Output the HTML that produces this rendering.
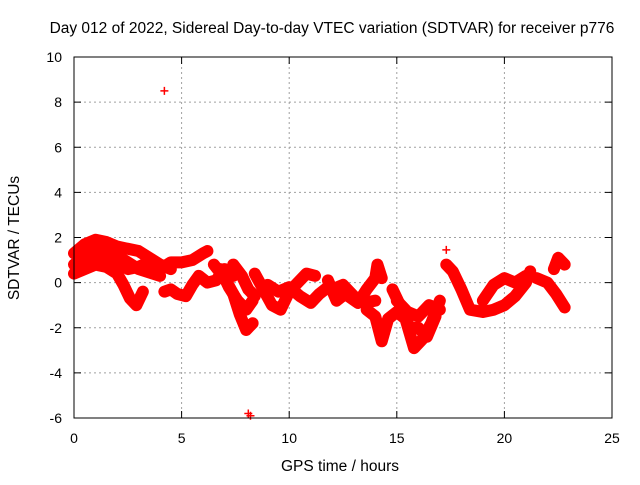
<!DOCTYPE html>
<html><head><meta charset="utf-8"><style>
body{margin:0;background:#fff}
svg text{font-family:"Liberation Sans",sans-serif;font-size:14px;fill:#000}
svg text.t{font-size:15.5px}
</style></head><body>
<svg width="640" height="480" id="c">
<text class="t" x="332" y="33" text-anchor="middle">Day 012 of 2022, Sidereal Day-to-day VTEC variation (SDTVAR) for receiver p776</text>
<text class="t" x="340" y="471" text-anchor="middle">GPS time / hours</text>
<text class="t" transform="translate(19,238) rotate(-90)" text-anchor="middle">SDTVAR / TECUs</text>
<g id="grid"></g><g id="marks"></g>
<rect x="74" y="57" width="538" height="361" fill="none" stroke="#000"/>
</svg>
<script>
const xTicks=[0,5,10,15,20,25];
const yTicks=[-6,-4,-2,0,2,4,6,8,10];
const track1=[[0,1.3],[0.5,1.7],[1,1.9],[1.5,1.8],[2,1.6],[2.5,1.5],[3,1.4],[3.5,1.1],[4,0.8],[4.5,0.6]];
const track2=[[0,0.8],[0.5,1.2],[1,1.3],[1.5,1.1],[2,1.0],[2.5,0.6],[3,0.7],[3.5,0.9],[4,0.6],[4.5,0.9],[5,0.9],[5.5,1.0],[6,1.3],[6.2,1.4]];
const track3=[[0,0.4],[0.5,0.6],[1,0.8],[1.5,0.7],[2,0.4],[2.3,-0.1],[2.6,-0.7],[2.9,-1.0],[3.2,-0.4]];
const track4=[[4.2,-0.4],[4.5,-0.3],[4.8,-0.5],[5.2,-0.6],[5.5,-0.1],[5.8,0.3],[6.2,0.0],[6.6,0.1],[7,0.6],[7.4,0.3]];
const track5=[[6.5,0.8],[7,0.2],[7.4,-0.5],[7.7,-1.4],[8,-2.1],[8.3,-1.8]];
const track6=[[7.4,0.8],[7.8,0.3],[8.1,-0.3],[8.4,-0.6]];
const track7=[[8.4,0.4],[8.8,-0.3],[9.2,-1.0],[9.6,-1.2],[10,-0.4],[10.4,0.0],[10.8,0.4],[11.2,0.3]];
const track8=[[9.0,-0.1],[9.5,-0.4],[10,-0.2],[10.5,-0.6],[11,-0.9],[11.4,-0.5],[11.8,-0.2]];
const track9=[[11.8,0.1],[12.2,-0.8],[12.6,-0.5],[13.2,-0.9],[13.6,-0.3],[14,0.2],[14.1,0.8],[14.3,0.2]];
const track10=[[13.6,-1.2],[14,-1.5],[14.3,-2.6],[14.6,-1.6],[15,-1.3],[15.4,-1.6],[15.8,-2.9],[16.2,-2.5],[16.6,-1.8],[17,-0.8]];
const track11=[[14.8,-0.3],[15.2,-1.1],[15.6,-2.0],[16,-2.0],[16.4,-2.4],[16.8,-1.5]];
const track12=[[17.3,0.8],[17.6,0.5],[18,-0.3],[18.4,-1.2],[19,-1.3],[19.5,-1.2],[20,-1.0],[20.5,-0.6],[21,0.0],[21.2,0.5]];
const track13=[[19,-0.8],[19.5,-0.1],[20,0.2],[20.5,0.0],[21,0.3]];
const track14=[[21.5,0.2],[22,0.0],[22.4,-0.5],[22.8,-1.1]];
const track15=[[22.3,0.6],[22.5,1.1],[22.8,0.8]];
const track16=[[6.8,0.6],[7.2,-0.2],[7.6,-0.8],[8,-1.2],[8.3,-0.8]];
const track17=[[0.3,1.0],[1,1.4],[2,1.2],[3,0.6],[4,0.3]];
const track18=[[12,-0.3],[12.5,-0.1],[13,-0.6],[13.5,-0.9],[14,-0.8]];
const track19=[[15,-0.8],[15.5,-1.3],[16,-1.5],[16.5,-1.0],[17,-1.2]];
const outliers=[[4.2,8.5],[8.1,-5.8],[8.2,-5.9],[17.3,1.45]];
const tracks=[track1,track2,track3,track4,track5,track6,track7,track8,track9,track10,track11,track12,track13,track14,track15,track16,track17,track18,track19];
const NS="http://www.w3.org/2000/svg";
const X=v=>74+v*538/25, Y=v=>418-(v+6)*361/16;
const g=document.getElementById('grid'), m=document.getElementById('marks');
function el(t,a,p){const e=document.createElementNS(NS,t);for(const k in a)e.setAttribute(k,a[k]);p.appendChild(e);return e;}
xTicks.forEach(t=>{
 const x=X(t);
 if(t>0&&t<25){const l=el('line',{x1:x,x2:x,y1:57,y2:418,stroke:'#a0a0a0','stroke-dasharray':'2,3'},g);
 
 }
 el('line',{x1:x,x2:x,y1:418,y2:411,stroke:'#000'},g);el('line',{x1:x,x2:x,y1:57,y2:64,stroke:'#000'},g);
 const tx=el('text',{x:x,y:443,'text-anchor':'middle'},g);tx.textContent=t;
 
 
});
yTicks.forEach(t=>{
 const y=Y(t);
 if(t>-6&&t<10){const l=el('line',{x1:74,x2:612,y1:y,y2:y,stroke:'#a0a0a0','stroke-dasharray':'2,3'},g);
 
 }
 el('line',{x1:74,x2:81,y1:y,y2:y,stroke:'#000'},g);el('line',{x1:612,x2:605,y1:y,y2:y,stroke:'#000'},g);
 const tx=el('text',{x:62,y:y+5,'text-anchor':'end'},g);tx.textContent=t;
 
 
});
tracks.forEach(tr=>{
 const p=el('polyline',{points:tr.map(d=>X(d[0])+','+Y(d[1])).join(' '),fill:'none',stroke:'#f00','stroke-width':12,'stroke-linejoin':'round','stroke-linecap':'round'},m);
 
 
});
outliers.forEach(d=>{
 const x=X(d[0]),y=Y(d[1]);
 const p=el('path',{d:`M${x-4},${y}H${x+4}M${x},${y-4}V${y+4}`,stroke:'#f00','stroke-width':1.5},m);
 
 
});
</script>
</body></html>
